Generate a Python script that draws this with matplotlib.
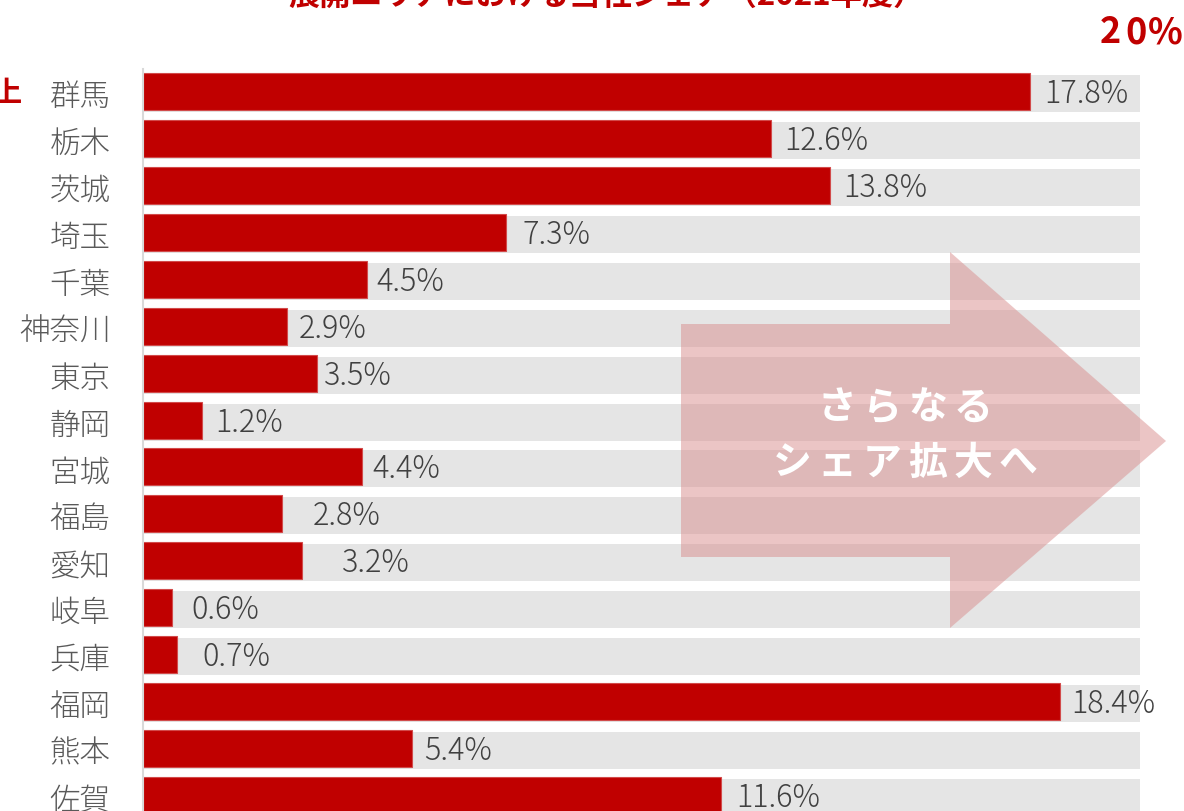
import matplotlib
matplotlib.use("Agg")
import matplotlib.pyplot as plt
from matplotlib.patches import Polygon

plt.rcParams['font.family'] = ['Noto Sans CJK JP', 'DejaVu Sans']

# ---- data ----
prefectures = ["群馬", "栃木", "茨城", "埼玉", "千葉", "神奈川", "東京", "静岡",
               "宮城", "福島", "愛知", "岐阜", "兵庫", "福岡", "熊本", "佐賀"]
share = [17.8, 12.6, 13.8, 7.3, 4.5, 2.9, 3.5, 1.2,
         4.4, 2.8, 3.2, 0.6, 0.7, 18.4, 5.4, 11.6]
full_scale = 20
title = "展開エリアにおける当社シェア（2021年度）"
scale_label = "20%"
arrow_lines = ["さらなる", "シェア拡大へ"]
side_label = "上"

# ---- layout (pixels) ----
W, H = 1184, 811
DPI = 100
RED = "#c00000"
px_per_unit = 49.85
ax_left_px = 142.5
row0_px = 93.7
row_step = 46.9
ax_top_px = 69

# extra label padding in px per row (manual placement in original)
label_pad_px = [14, 14, 13, 16, 10, 12, 7, 13, 11, 31, 40, 19, 25, 12, 12, 15]

fig = plt.figure(figsize=(W / DPI, H / DPI), dpi=DPI)
ax_w_px = W - ax_left_px
ax = fig.add_axes([ax_left_px / W, 0, ax_w_px / W, (H - ax_top_px) / H])
ax.set_xlim(0, ax_w_px / px_per_unit)
y_top = -(row0_px - ax_top_px) / row_step
y_bot = (H - row0_px) / row_step
ax.set_ylim(y_bot, y_top)

n = len(prefectures)
ys = list(range(n))
bar_h = 37 / row_step
shift = 2 / row_step
ax.barh(ys, [full_scale] * n, height=bar_h, color="#e5e5e5", zorder=1)
ax.barh([y - shift for y in ys], share, height=bar_h, color=RED,
        edgecolor="#d24a4a", linewidth=0.8, zorder=2)

for y, v, pad in zip(ys, share, label_pad_px):
    ax.text(v + pad / px_per_unit, y - shift + 11.5 / row_step, f"{v:.1f}%",
            ha="left", va="baseline", fontsize=22, fontweight="light",
            color="#404040", zorder=3)

ax.set_yticks(ys)
ax.set_yticklabels(prefectures, fontsize=22, color="#595959", fontweight="light")
ax.tick_params(axis="y", length=0, pad=32 * 72 / DPI)
ax.set_xticks([])
for s in ["top", "right", "bottom"]:
    ax.spines[s].set_visible(False)
ax.spines["left"].set_color("#d9d9d9")
ax.spines["left"].set_linewidth(1.5)

def fx(x):
    return x / W

def fy(y):
    return 1 - y / H

# title (cut off at top)
fig.text(fx(607), fy(6), title, ha="center", va="baseline", fontsize=22.5,
         fontweight="bold", color=RED)
# "20%" with letter spacing
for ch, cx in zip(scale_label, [1110, 1136, 1165]):
    fig.text(fx(cx), fy(43), ch, ha="center", va="baseline", fontsize=26,
             fontweight="bold", color=RED)
fig.text(fx(22), fy(93), side_label, ha="right", va="center", fontsize=21,
         fontweight="bold", color=RED)

# arrow
pts = [(681, 324), (950, 324), (950, 252), (1166, 441), (950, 628), (950, 557), (681, 557)]
arrow = Polygon([(fx(x), fy(y)) for x, y in pts], closed=True, transform=fig.transFigure,
                facecolor="#d98d8d", alpha=0.5, edgecolor="none", zorder=10)
fig.patches.append(arrow)
step = 45.3
for line, cy in zip(arrow_lines, [408, 463]):
    start = 905 - step * (len(line) - 1) / 2
    for k, ch in enumerate(line):
        fig.text(fx(start + k * step), fy(cy), ch, ha="center", va="center",
                 fontsize=28, fontweight="bold", color="white", zorder=11)

fig.savefig("out.png", dpi=DPI)
